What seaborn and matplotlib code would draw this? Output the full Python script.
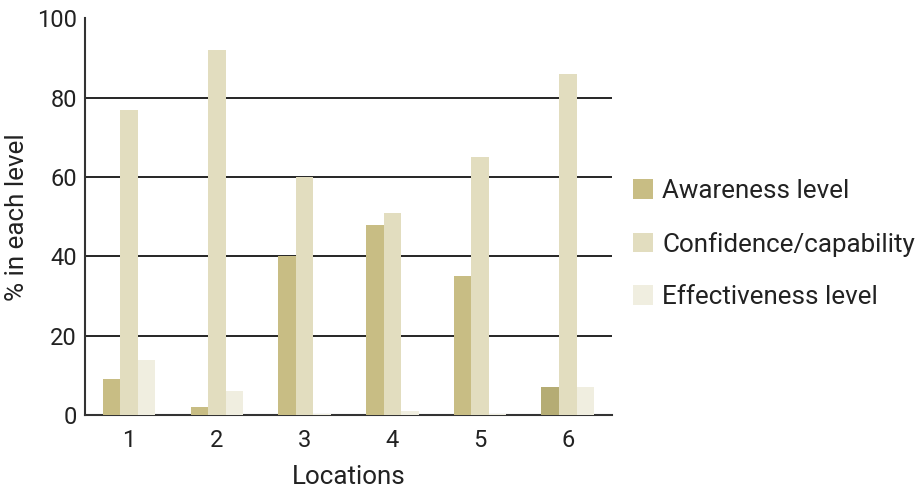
import matplotlib
matplotlib.use('Agg')
from matplotlib import pyplot as plt
from matplotlib.ticker import FixedLocator
import pandas as pd
import seaborn as sns

# values
locations = ['1', '2', '3', '4', '5', '6']
awareness = [9, 2, 40, 48, 35, 7]
confidence = [77, 92, 60, 51, 65, 86]
effectiveness = [14, 6, 0.3, 1, 0.3, 7]
series = ['Awareness level', 'Confidence/capability', 'Effectiveness level']
colors = ['#c8bd84', '#e2ddbf', '#f0eee0']

df = pd.DataFrame({
    'Locations': locations * 3,
    'value': awareness + confidence + effectiveness,
    'level': [s for s in series for _ in locations],
})

sns.set_style('white')
plt.rcParams['font.family'] = ['Roboto', 'DejaVu Sans']

fig = plt.figure(figsize=(9.17, 4.96), dpi=100)
ax = fig.add_axes([0.093, 0.163, 0.574, 0.8])

sns.barplot(data=df, x='Locations', y='value', hue='level', palette=colors,
            width=0.6, gap=0, saturation=1, linewidth=0, ax=ax, zorder=3)

# the last awareness bar is a touch darker in the reference
ax.containers[0].patches[5].set_facecolor('#b5ac74')

ax.set_ylim(0, 100)
ax.set_xlim(-0.5, 5.5)
ax.set_yticks([0, 20, 40, 60, 80, 100])
for y in [20, 40, 60, 80]:
    ax.axhline(y, color='black', lw=1.2, zorder=1)

ax.tick_params(axis='x', which='major', length=0, labelsize=17, pad=10, colors='#222222')
ax.xaxis.set_minor_locator(FixedLocator([0.5, 1.5, 2.5, 3.5, 4.5, 5.5]))
ax.tick_params(axis='x', which='minor', length=4, direction='inout', color='#444444')
ax.tick_params(axis='y', length=0, labelsize=17, pad=6, colors='#222222')

ax.set_xlabel('Locations', fontsize=18.7, color='#222222', labelpad=9)
ax.set_ylabel('% in each level', fontsize=18.7, color='#222222', labelpad=6)

sns.despine(ax=ax)
for side in ['left', 'bottom']:
    ax.spines[side].set_color('#333333')
    ax.spines[side].set_linewidth(1.5)

h, l = ax.get_legend_handles_labels()
ax.legend(h, l, loc='center left', bbox_to_anchor=(0.690, 0.508),
          bbox_transform=fig.transFigure, frameon=False, fontsize=18.7,
          handlelength=0.78, handleheight=0.78, handletextpad=0.35,
          labelspacing=1.1, labelcolor='#222222', borderaxespad=0, borderpad=0)

fig.savefig('out.png', dpi=100)
